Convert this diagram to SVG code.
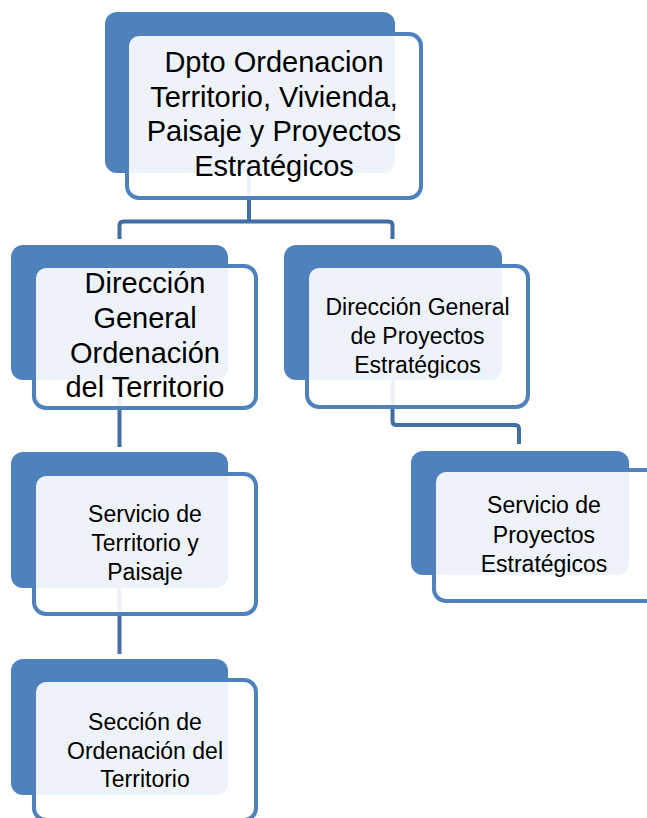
<svg xmlns="http://www.w3.org/2000/svg" width="647" height="818" viewBox="0 0 647 818">
<style>
.back{fill:#4f81bd}
.front{fill:#ffffff;fill-opacity:0.9;stroke:#4f81bd;stroke-width:4}
.conn{fill:none;stroke:#416ea6;stroke-width:4;stroke-linejoin:round}
text{font-family:"Liberation Sans",Arial,sans-serif;fill:#000;text-anchor:middle}
.big{font-size:29px}
.small{font-size:23px}
</style>
<rect width="647" height="818" fill="#ffffff"/>
<g id="backs">
<rect class="back" x="105" y="12" width="290" height="161" rx="12"/>
<rect class="back" x="11" y="245" width="217" height="135" rx="12"/>
<rect class="back" x="284" y="245" width="218" height="135" rx="12"/>
<rect class="back" x="411" y="451" width="218" height="124" rx="12"/>
<rect class="back" x="11" y="452" width="217" height="136" rx="12"/>
<rect class="back" x="11" y="659" width="217" height="136" rx="12"/>
</g>
<g id="connectors">
<path class="conn" d="M249,173 V221.5 M119.5,239 V225.5 Q119.5,221.5 123.5,221.5 H388.5 Q392.5,221.5 392.5,225.5 V239"/>
<path class="conn" d="M392.5,380 V421 Q392.5,425 396.5,425 H515 Q519,425 519,429 V444"/>
<path class="conn" d="M119.5,380 V447"/>
<path class="conn" d="M119.5,588 V654"/>
</g>
<g id="n-dpto">
<rect class="front" x="127" y="34" width="294" height="164" rx="12"/>
<text class="big" x="274" y="72">Dpto Ordenacion</text>
<text class="big" x="274" y="107">Territorio, Vivienda,</text>
<text class="big" x="274" y="141">Paisaje y Proyectos</text>
<text class="big" x="274" y="176">Estratégicos</text>
</g>
<g id="n-dgot">
<rect class="front" x="34" y="266" width="222" height="142" rx="12"/>
<text class="big" x="145" y="293">Dirección</text>
<text class="big" x="145" y="328">General</text>
<text class="big" x="145" y="363">Ordenación</text>
<text class="big" x="145" y="397">del Territorio</text>
</g>
<g id="n-dgpe">
<rect class="front" x="307" y="266" width="221" height="141" rx="12"/>
<text class="small" x="417.5" y="315">Dirección General</text>
<text class="small" x="417.5" y="344">de Proyectos</text>
<text class="small" x="417.5" y="373">Estratégicos</text>
</g>
<g id="n-spe">
<rect class="front" x="434" y="470" width="224" height="131" rx="12"/>
<text class="small" x="544" y="513">Servicio de</text>
<text class="small" x="544" y="543">Proyectos</text>
<text class="small" x="544" y="572">Estratégicos</text>
</g>
<g id="n-stp">
<rect class="front" x="34" y="474" width="222" height="140" rx="12"/>
<text class="small" x="145" y="522">Servicio de</text>
<text class="small" x="145" y="551">Territorio y</text>
<text class="small" x="145" y="580">Paisaje</text>
</g>
<g id="n-sot">
<rect class="front" x="34" y="680" width="222" height="140" rx="12"/>
<text class="small" x="145" y="730">Sección de</text>
<text class="small" x="145" y="759">Ordenación del</text>
<text class="small" x="145" y="787">Territorio</text>
</g>
</svg>
